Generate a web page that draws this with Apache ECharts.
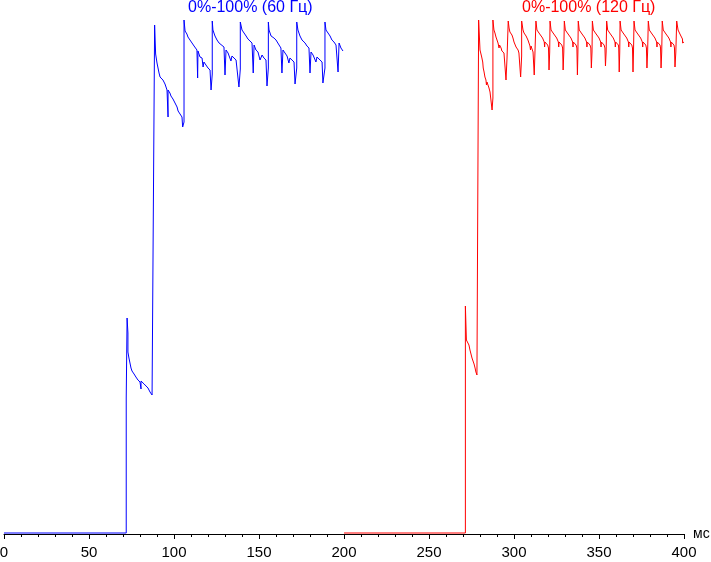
<!DOCTYPE html>
<html>
<head>
<meta charset="utf-8">
<script src="https://cdn.jsdelivr.net/npm/echarts@6/dist/echarts.min.js"></script>
<style>
html,body{margin:0;padding:0;background:#fff;}
#chart{width:711px;height:562px;}
</style>
</head>
<body>
<div id="chart"></div>
<script>
// time (ms) / brightness (arbitrary units, 0 = black)
const seriesNames = ["0%-100% (60 Гц)", "0%-100% (120 Гц)"];
const xTicks = [0, 50, 100, 150, 200, 250, 300, 350, 400];
const unitLabel = "мс";

const blue60 = [
[0,1],[71.9,1],[71.9,136],[72.4,136],[72.4,216],[72.9,201],[72.9,182],[73.5,176],[74.1,171],[74.7,166],[75.3,163],[76.5,160],[77.6,157],[78.8,154],[80.0,152],[80.6,145],[80.6,153],[81.2,153],[82.4,150],[83.5,149],[84.7,146],[85.9,142],[87.1,139],[88.2,138],[88.6,138],
[88.6,509],[89.2,509],[89.2,480],[90.0,471],[90.6,466],[91.2,461],[91.8,457],[93.5,454],[94.7,450],[95.3,447],[95.9,444],[96.5,444],[96.5,417],[96.5,444],[97.6,441],[98.2,438],[99.4,435],[100.6,431],[101.8,427],[102.4,423],[103.5,421],[104.7,417],[105.1,407],[105.9,412],[105.9,514],
[106.5,503],[107.6,500],[108.2,497],[109.4,494],[110.6,491],[111.8,488],[112.9,486],[113.5,484],[113.9,456],[114.1,483],[115.3,477],[116.5,476],[117.1,467],[117.6,472],[118.8,469],[120.0,466],[121.2,464],[121.8,444],[122.5,460],[122.5,513],
[122.9,504],[124.1,498],[125.3,494],[126.5,491],[127.6,489],[129.4,487],[130.0,459],[130.6,484],[131.8,481],[132.9,479],[133.5,473],[134.1,478],[135.3,476],[136.5,474],[137.6,472],[138.2,447],[139.0,465],[139.0,512],
[140.0,504],[141.2,501],[142.4,498],[143.5,495],[144.7,493],[145.9,491],[146.6,461],[147.1,489],[148.2,484],[149.4,482],[150.6,474],[151.8,479],[152.9,476],[154.1,474],[154.7,448],[155.5,466],[155.5,512],
[155.9,504],[157.1,498],[158.8,496],[160.0,494],[161.8,489],[162.9,486],[163.5,461],[164.1,484],[165.3,481],[166.5,478],[167.6,471],[168.2,476],[168.8,474],[170.6,472],[171.2,450],[172.2,466],[172.2,512],
[172.9,504],[174.1,498],[175.3,494],[177.1,491],[178.2,488],[179.4,486],[180.0,461],[180.6,482],[181.8,479],[182.9,477],[183.5,472],[184.1,477],[184.7,476],[185.9,474],[187.1,472],[187.6,451],[188.8,466],[188.8,512],
[189.4,504],[190.6,501],[191.8,498],[192.9,494],[194.1,492],[195.3,489],[196.5,462],[197.1,491],[198.2,486],[199.4,483]
];

const red120 = [
[200,1],[271.4,1],[271.4,228],[271.8,228],[272.0,194],[272.9,194],[273.5,189],[274.1,184],[274.7,180],[275.3,176],[275.9,173],[276.5,170],[277.1,166],[277.6,162],[278.2,159],[279.2,159],
[279.2,514],[279.6,514],[280.0,484],[281.0,477],[281.6,472],[281.9,466],[282.4,462],[282.9,457],[283.5,454],[283.8,449],[284.1,452],[284.7,449],[285.3,446],[285.9,442],[286.5,440],[287.1,424],[287.6,436],[287.6,514],
[288.2,504],[288.8,501],[289.4,497],[290.0,494],[290.6,491],[291.2,486],[291.5,489],[292.4,486],[292.9,483],[294.1,481],[294.7,479],[295.3,454],[295.9,476],[296.6,474],[296.6,513],
[297.1,506],[297.6,502],[298.8,499],[299.4,496],[300.0,492],[300.6,490],[301.2,487],[302.4,484],[302.9,481],[303.9,457],[304.5,478],[304.5,513],
[305.3,504],[305.9,501],[307.1,498],[308.2,494],[308.8,491],[309.4,488],[309.7,484],[310.0,488],[310.6,486],[311.2,482],[311.9,459],[312.3,480],[312.9,480],
[312.9,513],[313.5,504],[314.7,501],[315.8,499],[316.8,496],[317.8,492],[318.0,487],[318.2,492],[318.8,491],[319.8,489],[320.3,486],[320.6,464],[321.0,482],
[321.2,482],[321.2,513],[321.8,504],[323.0,501],[324.1,499],[325.1,496],[326.1,492],[326.3,487],[326.5,492],[327.1,491],[328.1,489],[328.6,486],[328.9,464],[329.3,482],
[329.6,482],[329.6,513],[330.2,504],[331.4,501],[332.5,499],[333.5,496],[334.5,492],[334.7,487],[334.9,492],[335.5,491],[336.5,489],[337.0,486],[337.3,459],[337.6,482],
[337.8,482],[337.8,513],[338.4,504],[339.6,501],[340.7,499],[341.7,496],[342.7,492],[342.9,487],[343.1,492],[343.7,491],[344.7,489],[345.2,486],[345.5,466],[345.9,482],
[346.1,482],[346.1,513],[346.7,504],[347.9,501],[349.0,499],[350.0,496],[351.0,492],[351.2,487],[351.4,492],[352.0,491],[353.0,489],[353.5,486],[353.8,468],[354.2,482],
[354.5,482],[354.5,513],[355.1,504],[356.3,501],[357.4,499],[358.4,496],[359.4,492],[359.6,487],[359.8,492],[360.4,491],[361.4,489],[361.6,486],[361.9,462],[362.2,482],
[362.4,482],[362.4,513],[363.0,504],[364.2,501],[365.3,499],[366.3,496],[367.3,492],[367.5,487],[367.7,492],[368.3,491],[369.3,489],[369.7,486],[370.0,462],[370.3,482],
[370.6,482],[370.6,513],[371.2,504],[372.4,501],[373.5,499],[374.5,496],[375.5,492],[375.7,487],[375.9,492],[376.5,491],[377.5,489],[377.9,486],[378.2,466],[378.6,482],
[379.0,482],[379.0,513],[379.6,504],[380.8,501],[381.9,499],[382.9,496],[383.9,492],[384.1,487],[384.3,492],[384.9,491],[385.9,489],[386.2,486],[386.5,466],[386.9,482],
[387.2,482],[387.2,513],[387.8,504],[389.0,501],[390.1,499],[391.1,496],[392.1,492],[392.3,487],[392.5,492],[393.1,491],[394.1,489],[394.4,486],[394.7,467],[395.2,482],
[395.7,482],[395.7,513],[396.5,504],[397.9,499],[399.1,495],[399.2,491],[400,492]
];

const chart = echarts.init(document.getElementById('chart'), null, {renderer: 'canvas'});
chart.setOption({
  animation: false,
  backgroundColor: '#ffffff',
  grid: {left: 4, right: 27, top: 20, bottom: 28, outerBoundsMode: 'none'},
  xAxis: {
    type: 'value', min: xTicks[0], max: xTicks[xTicks.length - 1], interval: 50,
    name: unitLabel, nameLocation: 'end', nameGap: 9,
    nameTextStyle: {color: '#000', fontSize: 14, fontFamily: 'Liberation Sans'},
    axisLine: {show: true, onZero: false, lineStyle: {color: '#000', width: 1}},
    axisTick: {show: true, length: 5, lineStyle: {color: '#000', width: 1}},
    minorTick: {show: true, splitNumber: 5, length: 3, lineStyle: {color: '#000', width: 1}},
    splitLine: {show: false},
    minorSplitLine: {show: false},
    axisLabel: {color: '#000', fontSize: 15, fontFamily: 'Liberation Sans', margin: 11}
  },
  yAxis: {type: 'value', min: 0, max: 514, show: false},
  graphic: [
    {type: 'text', left: 250 - 62, top: 0, style: {text: seriesNames[0], fill: '#0000ff', font: '16px "Liberation Sans"'}},
    {type: 'text', left: 587 - 65, top: 0, style: {text: seriesNames[1], fill: '#ff0000', font: '16px "Liberation Sans"'}}
  ],
  series: [
    {type: 'line', name: seriesNames[0], data: blue60, showSymbol: false, symbol: 'none',
     lineStyle: {color: '#0000ff', width: 1}, silent: true},
    {type: 'line', name: seriesNames[1], data: red120, showSymbol: false, symbol: 'none',
     lineStyle: {color: '#ff0000', width: 1}, silent: true}
  ]
});
</script>
</body>
</html>
